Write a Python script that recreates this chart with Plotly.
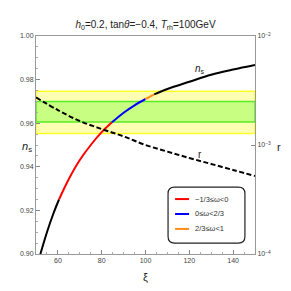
import plotly.graph_objects as go

# ---- data ----
xi_ns = [52, 55, 58, 60.5, 65, 70, 75, 80, 84.7, 90, 95, 100, 104, 110, 120, 130, 140, 150]
ns_vals = [0.900, 0.910, 0.9187, 0.925, 0.9344, 0.9431, 0.9500, 0.9559, 0.9604, 0.9648, 0.9682,
           0.9711, 0.9732, 0.9757, 0.9790, 0.9822, 0.9846, 0.9867]

xi_r = [50, 60, 70, 80, 90, 100, 110, 120, 130, 140, 150]
r_vals = [2.73e-3, 2.09e-3, 1.66e-3, 1.40e-3, 1.20e-3, 1.00e-3, 8.7e-4, 7.6e-4, 6.7e-4, 5.9e-4, 5.2e-4]

# colour segments of the n_s curve (xi ranges)
seg_bounds = [(52, 60.5), (60.5, 84.7), (84.7, 100), (100, 104), (104, 150)]
seg_colors = ["black", "#ff0000", "#0000ff", "#ff8c1a", "black"]

band_yellow = (0.9553, 0.9747)
band_green = (0.9605, 0.9699)

legend_labels = ["−1/3≤ω<0", "0≤ω<2/3", "2/3≤ω<1"]
legend_colors = ["#ff0000", "#0000ff", "#ff8c1a"]

x_ticks = [60, 80, 100, 120, 140]
y_ticks = [0.90, 0.92, 0.94, 0.96, 0.98, 1.00]
r_ticks = [1e-4, 1e-3, 1e-2]
r_ticktext = ["10<sup>−4</sup>", "10<sup>−3</sup>", "10<sup>−2</sup>"]

FONT = "Liberation Sans, Arial, sans-serif"
fig = go.Figure()

# bands
fig.add_shape(type="rect", xref="paper", yref="y", x0=0, x1=1,
              y0=band_yellow[0], y1=band_yellow[1],
              fillcolor="rgb(255,255,180)", line=dict(color="rgb(255,255,40)", width=1.5), layer="below")
fig.add_shape(type="rect", xref="paper", yref="y", x0=0, x1=1,
              y0=band_green[0], y1=band_green[1],
              fillcolor="rgb(200,255,130)", line=dict(color="rgb(90,235,40)", width=1.5), layer="below")

# n_s segments
for (a, b), c in zip(seg_bounds, seg_colors):
    xs = [x for x in xi_ns if a <= x <= b]
    ys = [y for x, y in zip(xi_ns, ns_vals) if a <= x <= b]
    fig.add_trace(go.Scatter(x=xs, y=ys, mode="lines", line=dict(color=c, width=2, shape="spline"),
                             showlegend=False, hoverinfo="skip"))

# r curve on right log axis
fig.add_trace(go.Scatter(x=xi_r, y=r_vals, mode="lines", yaxis="y2",
                         line=dict(color="black", width=2, dash="5px,2.5px", shape="spline"),
                         showlegend=False, hoverinfo="skip"))

tickfont = dict(family=FONT, size=7, color="#444")
fig.update_layout(
    width=291, height=291,
    margin=dict(l=36, r=36, t=36, b=37),
    paper_bgcolor="white", plot_bgcolor="white",
    showlegend=False,
    title=dict(text="<i>h</i><sub>0</sub>=0.2, tan<i>θ</i>=−0.4, <i>T</i><sub>rh</sub>=100GeV",
               x=0.5, xanchor="center", y=0.915, yanchor="middle",
               font=dict(family=FONT, size=10, color="#222")),
    xaxis=dict(range=[50, 150], tickvals=x_ticks, ticks="inside", ticklen=4, tickcolor="#888",
               showline=True, linecolor="#999", linewidth=1, mirror=True, showgrid=False,
               zeroline=False, tickfont=tickfont,
               minor=dict(dtick=5, ticks="inside", ticklen=2, tickcolor="#aaa")),
    yaxis=dict(range=[0.90, 1.00], tickvals=y_ticks, tickformat=".2f", ticks="inside", ticklen=4,
               tickcolor="#888", showline=True, linecolor="#999", linewidth=1, mirror=True,
               showgrid=False, zeroline=False, tickfont=tickfont,
               minor=dict(dtick=0.005, ticks="inside", ticklen=2, tickcolor="#aaa")),
    yaxis2=dict(type="log", range=[-4, -2], overlaying="y", side="right", tickvals=r_ticks,
                ticktext=r_ticktext, ticks="inside", ticklen=4, tickcolor="#888",
                showline=True, linecolor="#999", linewidth=1, showgrid=False, zeroline=False,
                tickfont=tickfont),
)

# axis labels
fig.add_annotation(text="<i>n</i><sub>s</sub>", xref="paper", yref="paper", x=-0.075, y=0.49,
                   showarrow=False, font=dict(family=FONT, size=11, color="#222"))
fig.add_annotation(text="ξ", xref="paper", yref="paper", x=0.5, y=-0.14,
                   showarrow=False, font=dict(family=FONT, size=11, color="#222"))
fig.add_annotation(text="r", xref="paper", yref="paper", x=1.13, y=0.49,
                   showarrow=False, font=dict(family=FONT, size=11, color="#222"))
# curve labels
fig.add_annotation(text="<i>n</i><sub>s</sub>", x=125, y=0.9848, xref="x", yref="y",
                   showarrow=False, font=dict(family=FONT, size=10, color="#222"))
fig.add_annotation(text="r", x=125, y=0.9457, xref="x", yref="y",
                   showarrow=False, font=dict(family=FONT, size=10, color="#222"))

# legend box (rounded)
x0, x1, y0, y1 = 0.603, 0.954, 0.050, 0.307
rx, ry = 0.03, 0.03
path = (f"M {x0+rx},{y0} L {x1-rx},{y0} Q {x1},{y0} {x1},{y0+ry} L {x1},{y1-ry} "
        f"Q {x1},{y1} {x1-rx},{y1} L {x0+rx},{y1} Q {x0},{y1} {x0},{y1-ry} "
        f"L {x0},{y0+ry} Q {x0},{y0} {x0+rx},{y0} Z")
fig.add_shape(type="path", xref="paper", yref="paper", path=path,
              fillcolor="white", line=dict(color="#222", width=1.2))
for i, (lab, col) in enumerate(zip(legend_labels, legend_colors)):
    yy = 0.252 - i * 0.0685
    fig.add_shape(type="line", xref="paper", yref="paper", x0=0.635, x1=0.699, y0=yy, y1=yy,
                  line=dict(color=col, width=2))
    fig.add_annotation(text=lab, xref="paper", yref="paper", x=0.715, y=yy, xanchor="left",
                       yanchor="middle", showarrow=False,
                       font=dict(family=FONT, size=7.5, color="#333"))

fig.write_html("out.html", config={"displayModeBar": False},
               post_script="document.body.style.margin='0';document.body.style.overflow='hidden';")
